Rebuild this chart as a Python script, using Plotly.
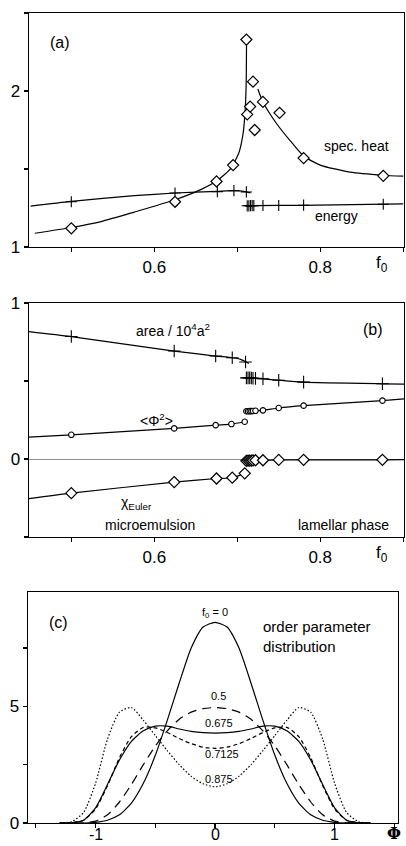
import plotly.graph_objects as go

# ---------------- data: panel (a) ----------------
sh_f0 = [0.5, 0.625, 0.675, 0.695, 0.711, 0.712, 0.7155, 0.719, 0.721, 0.731, 0.751, 0.78, 0.876]
sh_val = [1.12, 1.29, 1.42, 1.525, 2.33, 1.85, 1.90, 2.06, 1.75, 1.93, 1.86, 1.57, 1.456]

sh_fit_left_x = [0.456, 0.5, 0.536, 0.576, 0.625, 0.656, 0.676, 0.692, 0.702, 0.7072, 0.7096, 0.7108, 0.7112]
sh_fit_left_y = [1.088, 1.125, 1.163, 1.224, 1.303, 1.368, 1.426, 1.503, 1.604, 1.733, 1.884, 2.056, 2.325]
sh_fit_right_x = [0.7248, 0.731, 0.748, 0.764, 0.78, 0.80, 0.836, 0.876, 0.90]
sh_fit_right_y = [2.013, 1.93, 1.787, 1.68, 1.583, 1.525, 1.48, 1.46, 1.454]

en_left_f0 = [0.5, 0.625, 0.676, 0.696, 0.711]
en_left_val = [1.29, 1.346, 1.355, 1.361, 1.353]
en_left_line_x = [0.451, 0.5, 0.576, 0.625, 0.676, 0.696, 0.708, 0.716]
en_left_line_y = [1.262, 1.292, 1.329, 1.346, 1.357, 1.361, 1.357, 1.346]
en_right_f0 = [0.712, 0.714, 0.716, 0.718, 0.72, 0.731, 0.75, 0.78, 0.876]
en_right_val = [1.264, 1.264, 1.265, 1.265, 1.265, 1.266, 1.266, 1.268, 1.274]
en_right_line_x = [0.71, 0.72, 0.776, 0.9]
en_right_line_y = [1.262, 1.265, 1.267, 1.277]

# ---------------- data: panel (b) ----------------
area_left_f0 = [0.5, 0.624, 0.674, 0.694, 0.71]
area_left_val = [0.785, 0.692, 0.66, 0.649, 0.622]
area_left_line_x = [0.449, 0.5, 0.624, 0.674, 0.694, 0.704, 0.714]
area_left_line_y = [0.817, 0.785, 0.692, 0.66, 0.649, 0.639, 0.613]
area_right_f0 = [0.711, 0.713, 0.715, 0.717, 0.719, 0.722, 0.731, 0.75, 0.78, 0.875]
area_right_val = [0.52, 0.52, 0.52, 0.519, 0.518, 0.517, 0.514, 0.505, 0.493, 0.482]

phi2_left_f0 = [0.5, 0.624, 0.674, 0.693, 0.709]
phi2_left_val = [0.155, 0.196, 0.217, 0.224, 0.239]
phi2_right_f0 = [0.711, 0.713, 0.715, 0.717, 0.719, 0.722, 0.731, 0.75, 0.78, 0.875]
phi2_right_val = [0.306, 0.306, 0.307, 0.307, 0.308, 0.309, 0.312, 0.327, 0.342, 0.374]

chi_left_f0 = [0.5, 0.624, 0.675, 0.694, 0.709]
chi_left_val = [-0.219, -0.148, -0.125, -0.12, -0.092]
chi_right_f0 = [0.711, 0.713, 0.715, 0.717, 0.719, 0.722, 0.731, 0.75, 0.78, 0.875]
chi_right_val = [-0.012, -0.01, -0.01, -0.01, -0.009, -0.008, -0.008, -0.006, -0.005, -0.005]

line_start_f0 = 0.449
line_end_f0 = 0.901
area_start, phi2_start, chi_start = 0.817, 0.14, -0.254
phi2_end, chi_end = 0.385, -0.004
area_end = 0.48

# ---------------- data: panel (c) ----------------
PHI = [-1.3, -1.2, -1.1, -1.0, -0.9, -0.8, -0.7, -0.6, -0.5, -0.4, -0.3, -0.2, -0.1, 0.0,
       0.1, 0.2, 0.3, 0.4, 0.5, 0.6, 0.7, 0.8, 0.9, 1.0, 1.1, 1.2, 1.3]
P_f0_0 = [0, 0, 0, 0.03, 0.12, 0.35, 0.85, 1.7, 2.9, 4.4, 6.0, 7.5, 8.4, 8.6,
          8.4, 7.5, 6.0, 4.4, 2.9, 1.7, 0.85, 0.35, 0.12, 0.03, 0, 0, 0]
P_f0_0500 = [0, 0, 0.01, 0.08, 0.35, 0.9, 1.65, 2.5, 3.3, 3.95, 4.45, 4.75, 4.9, 4.95,
             4.9, 4.75, 4.45, 3.95, 3.3, 2.5, 1.65, 0.9, 0.35, 0.08, 0.01, 0, 0]
P_f0_0675 = [0, 0.01, 0.12, 0.65, 1.65, 2.7, 3.5, 3.95, 4.15, 4.15, 4.03, 3.93, 3.87, 3.85,
             3.87, 3.93, 4.03, 4.15, 4.15, 3.95, 3.5, 2.7, 1.65, 0.65, 0.12, 0.01, 0]
P_f0_07125 = [0, 0.02, 0.12, 0.6, 1.6, 2.8, 3.7, 4.1, 4.08, 3.88, 3.62, 3.4, 3.25, 3.2,
              3.25, 3.4, 3.62, 3.88, 4.08, 4.1, 3.7, 2.8, 1.6, 0.6, 0.12, 0.02, 0]
P_f0_0875 = [0, 0.06, 0.45, 1.7, 3.6, 4.75, 4.95, 4.4, 3.75, 3.1, 2.5, 2.0, 1.68, 1.55,
             1.68, 2.0, 2.5, 3.1, 3.75, 4.4, 4.95, 4.75, 3.6, 1.7, 0.45, 0.06, 0]

phi_tick_vals = [-1.5, -1, -0.5, 0, 0.5, 1, 1.5]
phi_label_vals = [-1, 0, 1]
phi_label_text = ["-1", "0", "1"]

FONT = "Liberation Sans"
K = "black"
LW = 1.2

fig = go.Figure()

def line(x, y, xa, ya, dash="solid", shape="spline", width=LW):
    fig.add_trace(go.Scatter(x=x, y=y, mode="lines", xaxis=xa, yaxis=ya,
                             line=dict(color=K, width=width, dash=dash, shape=shape,
                                       smoothing=0.6),
                             showlegend=False, hoverinfo="skip"))

def marks(x, y, xa, ya, symbol, size, lw=1.2):
    fig.add_trace(go.Scatter(x=x, y=y, mode="markers", xaxis=xa, yaxis=ya,
                             marker=dict(symbol=symbol, size=size, color="white",
                                         line=dict(color=K, width=lw)),
                             showlegend=False, hoverinfo="skip"))

def crosses(x, y, xa, ya, size=8):
    fig.add_trace(go.Scatter(x=x, y=y, mode="markers", xaxis=xa, yaxis=ya,
                             marker=dict(symbol="cross-thin-open", size=size, color=K,
                                         line=dict(color=K, width=1.1)),
                             showlegend=False, hoverinfo="skip"))

# panel (a)
line(sh_fit_left_x, sh_fit_left_y, "x", "y")
line(sh_fit_right_x, sh_fit_right_y, "x", "y")
line(en_left_line_x, en_left_line_y, "x", "y")
line(en_right_line_x, en_right_line_y, "x", "y")
crosses(en_left_f0 + en_right_f0, en_left_val + en_right_val, "x", "y")
marks(sh_f0, sh_val, "x", "y", "diamond", 8.5)

# panel (b)
line(area_left_line_x, area_left_line_y, "x2", "y2")
line(area_right_f0 + [line_end_f0], area_right_val + [area_end], "x2", "y2")
crosses(area_left_f0 + area_right_f0, area_left_val + area_right_val, "x2", "y2", 9)
line([line_start_f0] + phi2_left_f0, [phi2_start] + phi2_left_val, "x2", "y2")
line(phi2_right_f0 + [line_end_f0], phi2_right_val + [phi2_end], "x2", "y2")
marks(phi2_left_f0 + phi2_right_f0, phi2_left_val + phi2_right_val, "x2", "y2", "circle", 5.5, 1.1)
line([line_start_f0] + chi_left_f0, [chi_start] + chi_left_val, "x2", "y2")
line(chi_right_f0 + [line_end_f0], chi_right_val + [chi_end], "x2", "y2")
marks(chi_left_f0 + chi_right_f0, chi_left_val + chi_right_val, "x2", "y2", "diamond", 8.5)

# panel (c)
line(PHI, P_f0_0, "x3", "y3")
line(PHI, P_f0_0500, "x3", "y3", dash="9px,6px")
line(PHI, P_f0_0675, "x3", "y3")
line(PHI, P_f0_07125, "x3", "y3", dash="4px,3px")
line(PHI, P_f0_0875, "x3", "y3", dash="1.5px,2px")

def axis(domain, rng, tv, tt, anchor, size=17, ticklen=4):
    return dict(domain=domain, range=rng, tickvals=tv, ticktext=tt, anchor=anchor,
                ticks="outside", ticklen=ticklen, tickwidth=1.2, tickcolor=K,
                showline=True, linecolor=K, linewidth=1.4, mirror=True,
                showgrid=False, zeroline=False, fixedrange=True, automargin=False,
                tickfont=dict(family=FONT, size=size, color=K))

W, H = 406, 846
xd_ab = [29 / W, 404 / W]
xd_c = [28 / W, 398 / W]
yd_a = [1 - 247 / H, 1 - 13 / H]
yd_b = [1 - 537 / H, 1 - 303 / H]
yd_c = [1 - 823 / H, 1 - 592 / H]

fx = [0.5, 0.6, 0.7, 0.8, 0.9]
ft = ["", "0.6", "", "0.8", ""]
ya2 = axis(yd_b, [-0.5, 1.0], [-0.5, 0, 0.5, 1], ["", "0", "", "1"], "x2")
ya2.update(zeroline=True, zerolinecolor="#777", zerolinewidth=0.8)

fig.update_layout(
    width=W, height=H, margin=dict(l=0, r=0, t=0, b=0, pad=0, autoexpand=False),
    paper_bgcolor="white", plot_bgcolor="white",
    xaxis=axis(xd_ab, [0.449, 0.901], fx, ft, "y"),
    yaxis=axis(yd_a, [1.0, 2.5], [1, 1.5, 2, 2.5], ["1", "", "2", ""], "x"),
    xaxis2=axis(xd_ab, [0.449, 0.901], fx, ft, "y2"),
    yaxis2=ya2,
    xaxis3=axis(xd_c, [-1.565, 1.53], phi_tick_vals, [""] * len(phi_tick_vals), "y3", ticklen=4),
    yaxis3=axis(yd_c, [0, 9.9], [0, 2.5, 5, 7.5], ["0", "", "5", ""], "x3"),
)

def text(s, x, y, xr, yr, size=14, xanchor="center", yanchor="middle", family=FONT, align="center"):
    fig.add_annotation(text=s, x=x, y=y, xref=xr, yref=yr, showarrow=False,
                       xanchor=xanchor, yanchor=yanchor, align=align,
                       font=dict(family=family, size=size, color=K))

# panel (a) texts
text("(a)", 0.486, 2.31, "x", "y", size=16)
text("spec. heat", 0.885, 1.65, "x", "y", size=14, xanchor="right")
text("energy", 0.82, 1.2, "x", "y", size=14)
text("f<sub>0</sub>", 0.874, 1 - 264 / H, "x", "paper", size=17)

# panel (b) texts
text("area / 10<sup>4</sup>a<sup>2</sup>", 0.622, 0.83, "x2", "y2", size=14)
text("(b)", 0.864, 0.83, "x2", "y2", size=16)
text("&lt;Φ<sup>2</sup>&gt;", 0.603, 0.25, "x2", "y2", size=14)
text("χ<sub>Euler</sub>", 0.579, -0.28, "x2", "y2", size=14)
text("microemulsion", 0.595, -0.425, "x2", "y2", size=14)
text("lamellar phase", 0.885, -0.425, "x2", "y2", size=14, xanchor="right")
text("f<sub>0</sub>", 0.874, 1 - 554 / H, "x2", "paper", size=17)

# panel (c) texts
text("(c)", -1.31, 8.6, "x3", "y3", size=16)
text("order parameter<br>distribution", 0.38, 8.0, "x3", "y3", size=15, xanchor="left", align="left")
text("f<sub>0</sub> = 0", 0.0, 9.0, "x3", "y3", size=11)
text("0.5", 0.03, 5.45, "x3", "y3", size=11)
text("0.675", 0.03, 4.3, "x3", "y3", size=11)
text("0.7125", 0.06, 2.95, "x3", "y3", size=11)
text("0.875", 0.03, 1.9, "x3", "y3", size=11)
for v, t in zip(phi_label_vals, phi_label_text):
    text(t, v, 0.001, "x3", "paper", size=16, yanchor="bottom")
text("<b>Φ</b>", 1.5, 0.001, "x3", "paper", size=16, yanchor="bottom", family="DejaVu Serif")

fig.write_html(
    "out.html",
    config={"displayModeBar": False, "staticPlot": True},
    post_script="document.body.style.margin='0';document.body.style.overflow='hidden';",
)
